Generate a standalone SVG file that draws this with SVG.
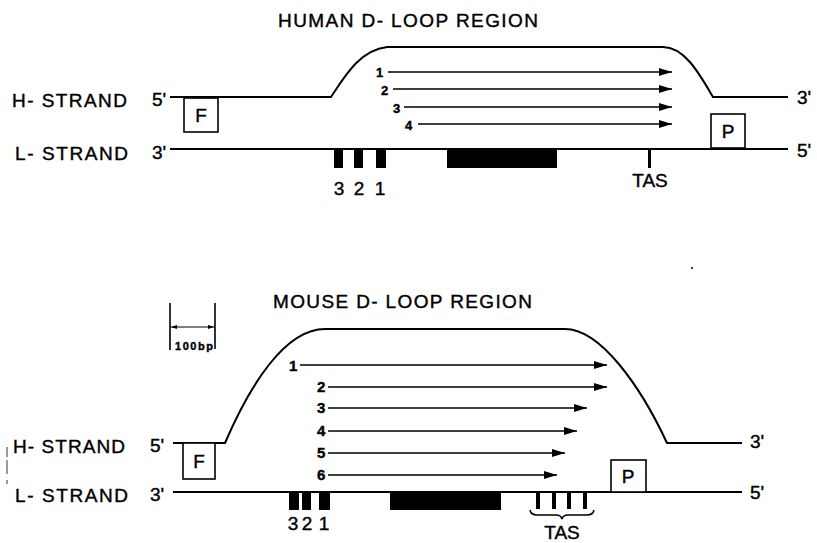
<svg xmlns="http://www.w3.org/2000/svg" width="817" height="543" viewBox="0 0 817 543">
<defs>
<marker id="ah" markerUnits="userSpaceOnUse" markerWidth="13" markerHeight="8" refX="13" refY="4" orient="auto">
<path d="M0,0 L13,4 L0,8 z" fill="#000"/>
</marker>
<marker id="sa" markerUnits="userSpaceOnUse" markerWidth="6" markerHeight="4" refX="6" refY="2" orient="auto-start-reverse">
<path d="M0,0 L6,2 L0,4 z" fill="#000"/>
</marker>
</defs>
<style>
text{font-family:"Liberation Sans",Arial,sans-serif;fill:#000;stroke:#000;stroke-width:0.4}
.lbl{font-size:19px}
.ttl{font-size:19px}
.num{font-size:13px;font-weight:bold}
.numb{font-size:15px;font-weight:bold}
.bx{font-size:19px;text-anchor:middle}
.strand{fill:none;stroke:#000;stroke-width:2}
.arr{stroke:#000;stroke-width:1.6;marker-end:url(#ah)}
.box{fill:#fff;stroke:#000;stroke-width:1.6}
.bar{fill:#000}
.mid{text-anchor:middle}
</style>
<rect width="817" height="543" fill="#fff"/>

<!-- HUMAN -->
<g id="human-title"><text class="ttl" x="278" y="27" textLength="260">HUMAN D- LOOP REGION</text></g>
<g id="human-labels">
<text class="lbl" x="12" y="107" textLength="115">H- STRAND</text>
<text class="lbl" x="152" y="106">5'</text>
<text class="lbl" x="15" y="160" textLength="113">L- STRAND</text>
<text class="lbl" x="152" y="159">3'</text>
<text class="lbl" x="797" y="104">3'</text>
<text class="lbl" x="797" y="157">5'</text>
</g>
<g id="human-strands">
<path class="strand" d="M170,97 L331,97 C345,76 360,50 387,47 L663,47 C685,47 700,75 713,97 L788,97"/>
<path class="strand" d="M170,149 L788,149"/>
</g>
<g id="human-F"><rect class="box" x="184" y="98" width="34" height="34"/><text class="bx" x="201" y="122">F</text></g>
<g id="human-P"><rect class="box" x="711" y="114" width="34" height="34"/><text class="bx" x="728" y="138">P</text></g>
<g id="human-bars">
<rect class="bar" x="334" y="149" width="9" height="19"/>
<rect class="bar" x="354" y="149" width="9" height="19"/>
<rect class="bar" x="376" y="149" width="10" height="19"/>
<rect class="bar" x="447" y="149" width="110" height="19"/>
<rect class="bar" x="648" y="149" width="3" height="19"/>
<text class="lbl mid" x="339" y="195">3</text>
<text class="lbl mid" x="359" y="195">2</text>
<text class="lbl mid" x="380" y="195">1</text>
<text class="lbl mid" x="650" y="187">TAS</text>
</g>
<g id="human-arrows">
<line class="arr" x1="388" y1="72" x2="672" y2="72"/>
<line class="arr" x1="393" y1="89" x2="672" y2="89"/>
<line class="arr" x1="404" y1="107" x2="672" y2="107"/>
<line class="arr" x1="418" y1="124" x2="672" y2="124"/>
<text class="num" x="376" y="77">1</text>
<text class="num" x="381" y="95">2</text>
<text class="num" x="393" y="113">3</text>
<text class="num" x="405" y="130">4</text>
</g>

<circle cx="692" cy="268" r="1" fill="#000"/>

<!-- MOUSE -->
<g id="mouse-title"><text class="ttl" x="273" y="308" textLength="259">MOUSE D- LOOP REGION</text></g>
<g id="scale-bar">
<line x1="170" y1="303" x2="170" y2="350" stroke="#000" stroke-width="1.6"/>
<line x1="215" y1="303" x2="215" y2="349" stroke="#000" stroke-width="1.6"/>
<line x1="171" y1="327" x2="214" y2="327" stroke="#000" stroke-width="1.2" marker-start="url(#sa)" marker-end="url(#sa)"/>
<text x="175" y="350" font-size="11" font-weight="bold" textLength="38">100bp</text>
</g>
<line x1="7" y1="447" x2="7" y2="484" stroke="#000" stroke-width="0.8" stroke-dasharray="10,3,14,6"/>
<g id="mouse-labels">
<text class="lbl" x="13" y="453" textLength="112">H- STRAND</text>
<text class="lbl" x="150" y="452">5'</text>
<text class="lbl" x="15" y="502" textLength="113">L- STRAND</text>
<text class="lbl" x="150" y="501">3'</text>
<text class="lbl" x="750" y="448">3'</text>
<text class="lbl" x="750" y="499">5'</text>
</g>
<g id="mouse-strands">
<path class="strand" d="M173,443 L225,443 C250,385 285,329 325,329 L565,329 C600,329 640,385 667,443 L742,443"/>
<path class="strand" d="M173,492 L742,492"/>
</g>
<g id="mouse-F"><rect class="box" x="183" y="443" width="32" height="36"/><text class="bx" x="199" y="468">F</text></g>
<g id="mouse-P"><rect class="box" x="611" y="460" width="35" height="32"/><text class="bx" x="628" y="483">P</text></g>
<g id="mouse-bars">
<rect class="bar" x="289" y="492" width="10" height="18"/>
<rect class="bar" x="302" y="492" width="9" height="18"/>
<rect class="bar" x="319" y="492" width="11" height="18"/>
<rect class="bar" x="390" y="492" width="111" height="18"/>
<rect class="bar" x="536" y="492" width="4" height="17"/>
<rect class="bar" x="552" y="492" width="4" height="17"/>
<rect class="bar" x="567" y="492" width="4" height="17"/>
<rect class="bar" x="583" y="492" width="4" height="17"/>
<path d="M530,510 Q531,515 537,515 L556,515 Q561,515 562,519 Q563,515 568,515 L587,515 Q593,515 594,510" fill="none" stroke="#000" stroke-width="1.5"/>
<text class="lbl mid" x="293" y="530">3</text>
<text class="lbl mid" x="307" y="530">2</text>
<text class="lbl mid" x="324" y="530">1</text>
<text class="lbl mid" x="562" y="539">TAS</text>
</g>
<g id="mouse-arrows">
<line class="arr" x1="300" y1="365" x2="607" y2="365"/>
<line class="arr" x1="328" y1="387" x2="607" y2="387"/>
<line class="arr" x1="328" y1="408" x2="587" y2="408"/>
<line class="arr" x1="328" y1="431" x2="577" y2="431"/>
<line class="arr" x1="328" y1="453" x2="565" y2="453"/>
<line class="arr" x1="328" y1="475" x2="557" y2="475"/>
<text class="numb" x="289" y="371">1</text>
<text class="numb" x="317" y="392">2</text>
<text class="numb" x="317" y="413">3</text>
<text class="numb" x="317" y="436">4</text>
<text class="numb" x="317" y="458">5</text>
<text class="numb" x="317" y="480">6</text>
</g>
</svg>
